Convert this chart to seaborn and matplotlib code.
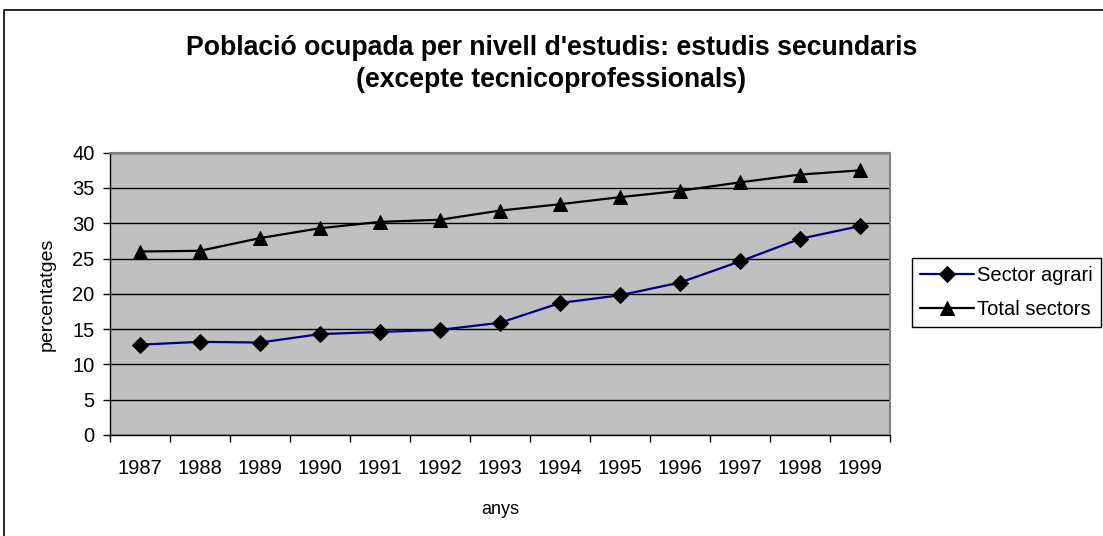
import matplotlib
matplotlib.use('Agg')
import matplotlib.pyplot as plt
import seaborn as sns
import pandas as pd
from matplotlib.patches import Rectangle
from matplotlib.ticker import MultipleLocator

years = [1987, 1988, 1989, 1990, 1991, 1992, 1993, 1994, 1995, 1996, 1997, 1998, 1999]
sector_agrari = [12.8, 13.2, 13.1, 14.3, 14.6, 14.9, 15.9, 18.7, 19.8, 21.6, 24.6, 27.8, 29.6]
total_sectors = [26.0, 26.1, 27.9, 29.3, 30.2, 30.5, 31.8, 32.7, 33.7, 34.6, 35.8, 36.9, 37.5]

title = "Població ocupada per nivell d'estudis: estudis secundaris\n(excepte tecnicoprofessionals)"

sns.set_style('white')
plt.rcParams['font.family'] = ['Liberation Sans', 'DejaVu Sans']
plt.rcParams['text.color'] = 'black'
plt.rcParams['axes.labelcolor'] = 'black'
plt.rcParams['xtick.color'] = 'black'
plt.rcParams['ytick.color'] = 'black'

df = pd.DataFrame({'any': years, 'Sector agrari': sector_agrari, 'Total sectors': total_sectors})

fig = plt.figure(figsize=(11.03, 5.36), dpi=100)
ax = fig.add_axes([110 / 1103, 1 - 435 / 536, 780 / 1103, (435 - 152.7) / 536])
ax.set_facecolor('#c0c0c0')

sns.lineplot(data=df, x='any', y='Sector agrari', ax=ax, color='#000080', lw=1.6,
             marker='D', markersize=8, markerfacecolor='black', markeredgecolor='black',
             label='Sector agrari', legend=False)
sns.lineplot(data=df, x='any', y='Total sectors', ax=ax, color='black', lw=1.6,
             marker='^', markersize=10, markerfacecolor='black', markeredgecolor='black',
             label='Total sectors', legend=False)

ax.set_xlim(years[0] - 0.5, years[-1] + 0.5)
ax.set_ylim(0, 40)
ax.yaxis.set_major_locator(MultipleLocator(5))
ax.set_xticks(years)
ax.set_xticklabels([str(y) for y in years])
ax.set_xticks([y - 0.5 for y in years] + [years[-1] + 0.5], minor=True)
ax.tick_params(axis='x', which='major', length=0, pad=17, labelsize=14.5)
ax.tick_params(axis='x', which='minor', length=5, width=1, color='black', direction='out', bottom=True)
ax.tick_params(axis='y', length=5, width=1, color='black', direction='out', left=True,
               labelsize=14.5, pad=6)
ax.grid(axis='y', color='black', lw=1)
ax.set_axisbelow(True)

for s in ['left', 'bottom']:
    ax.spines[s].set_color('black')
    ax.spines[s].set_linewidth(1)
for s in ['top', 'right']:
    ax.spines[s].set_color('#808080')
    ax.spines[s].set_linewidth(1.5)

ax.set_xlabel('anys', fontsize=13, labelpad=17)
ax.set_ylabel('percentatges', fontsize=14, labelpad=12)

fig.text(0.5, 1 - 64 / 536, title, ha='center', va='center', fontsize=19.2, fontweight='bold',
         linespacing=1.3)

fig.legend(loc='upper left', bbox_to_anchor=(912 / 1103, 1 - 258 / 536), fontsize=14.5,
           frameon=True, fancybox=False, edgecolor='black', framealpha=1,
           handlelength=2.7, handletextpad=0.15, borderpad=0.4, labelspacing=0.75,
           borderaxespad=0)

fig.patches.append(Rectangle((4 / 1103, -0.1), 1.2, 1 - 10 / 536 + 0.1, transform=fig.transFigure,
                             fill=False, edgecolor='black', lw=1.2))

fig.savefig('out.png', dpi=100)
